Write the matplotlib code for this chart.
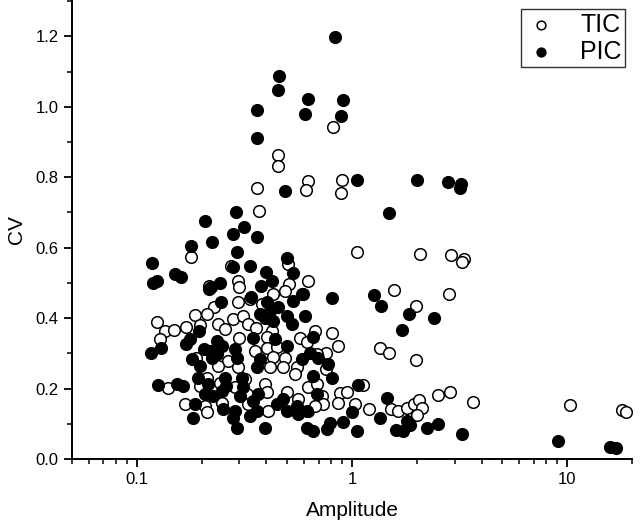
import matplotlib
matplotlib.use("Agg")
import matplotlib.pyplot as plt
from matplotlib.ticker import LogLocator, MultipleLocator, FuncFormatter

plt.rcParams['font.family'] = ['Liberation Sans', 'DejaVu Sans']

# TIC (open circles): amplitude, CV
tic_amp = [0.813, 0.90, 0.89, 0.451, 0.451, 0.363, 0.622, 0.609, 0.368,
           0.178, 1.06, 0.274, 0.505, 0.626, 0.296, 0.299, 0.511, 0.488, 0.431,
           0.594, 0.217, 0.296, 0.335, 0.380, 0.228, 0.212, 0.186, 0.281, 0.310,
           0.124, 0.135, 0.149, 0.169, 0.196, 0.239, 0.257, 0.330, 0.358, 0.423,
           0.128, 0.299, 0.401, 0.573, 0.616, 0.673, 0.804, 0.864, 0.404, 0.447,
           0.354, 0.266, 0.296, 0.239, 0.189, 0.431, 0.488, 0.416, 0.479, 0.553,
           0.543, 0.757, 0.685, 0.211, 0.196, 0.140, 0.243, 0.286, 0.318, 0.394,
           0.324, 0.401, 0.497, 0.563, 0.626, 0.685, 0.723, 0.735, 0.880, 0.944,
           0.864, 1.03, 0.167, 0.207, 0.211, 0.248, 0.330, 0.408, 0.626, 0.673,
           0.76, 1.35, 1.48, 1.98, 1.13, 1.20, 1.52, 1.63, 1.81, 1.94,
           2.04, 2.11, 2.0, 2.52, 2.86, 3.64, 2.06, 2.87, 3.31, 3.25,
           1.56, 1.98, 2.81, 10.3, 18.0, 18.8]
tic_cv = [0.942, 0.793, 0.754, 0.864, 0.832, 0.769, 0.790, 0.764, 0.703,
          0.572, 0.587, 0.549, 0.553, 0.506, 0.506, 0.487, 0.497, 0.476, 0.468,
          0.468, 0.492, 0.447, 0.454, 0.440, 0.432, 0.413, 0.409, 0.397, 0.407,
          0.390, 0.364, 0.366, 0.376, 0.380, 0.383, 0.369, 0.382, 0.373, 0.364,
          0.340, 0.343, 0.347, 0.343, 0.331, 0.362, 0.359, 0.321, 0.315, 0.317,
          0.307, 0.279, 0.260, 0.264, 0.288, 0.290, 0.288, 0.260, 0.260, 0.260,
          0.241, 0.300, 0.298, 0.231, 0.208, 0.201, 0.217, 0.203, 0.227, 0.214,
          0.184, 0.189, 0.189, 0.170, 0.203, 0.212, 0.179, 0.156, 0.188, 0.189,
          0.160, 0.156, 0.156, 0.151, 0.132, 0.160, 0.156, 0.137, 0.137, 0.151,
          0.256, 0.316, 0.300, 0.282, 0.210, 0.141, 0.141, 0.135, 0.146, 0.156,
          0.168, 0.144, 0.125, 0.182, 0.189, 0.163, 0.582, 0.579, 0.569, 0.559,
          0.480, 0.435, 0.468, 0.152, 0.138, 0.132]

# PIC (filled circles): amplitude, CV
pic_amp = [0.83, 0.905, 0.886, 1.05, 2.01, 2.80, 3.22, 3.18, 0.457, 0.453,
           0.626, 0.607, 0.363, 0.362, 0.488, 0.288, 0.315, 0.208, 1.49,
           1.26, 1.37, 1.85, 2.41, 1.71, 1.45, 1.35, 1.60, 1.73, 1.81,
           1.86, 2.22, 2.51, 3.24, 9.08, 15.8, 16.8,
           0.281, 0.363, 0.223, 0.178, 0.293, 0.118, 0.281, 0.335, 0.50, 0.398,
           0.423, 0.530, 0.124, 0.119, 0.150, 0.160, 0.221, 0.243, 0.217, 0.377,
           0.584, 0.533, 0.804, 0.246, 0.341, 0.401, 0.454, 0.416, 0.373, 0.394,
           0.431, 0.497, 0.524, 0.605, 0.194, 0.176, 0.169, 0.130, 0.117, 0.348,
           0.438, 0.497, 0.661, 0.205, 0.235, 0.219, 0.235, 0.248, 0.223, 0.286,
           0.291, 0.180, 0.196, 0.373, 0.360, 0.584, 0.638, 0.697, 0.776, 0.804,
           0.661, 0.193, 0.215, 0.257, 0.261, 0.307, 0.312, 0.126, 0.153, 0.164,
           0.207, 0.226, 0.248, 0.301, 0.367, 0.348, 0.479, 0.447, 0.553, 0.616,
           0.685, 0.186, 0.252, 0.286, 0.360, 0.335, 0.281, 0.183, 0.293, 0.394,
           0.50, 0.563, 0.616, 0.661, 0.763, 0.791, 0.911, 0.997, 1.05, 1.07]
pic_cv = [1.197, 1.020, 0.975, 0.792, 0.792, 0.786, 0.782, 0.769, 1.087, 1.047,
          1.021, 0.978, 0.992, 0.911, 0.760, 0.700, 0.658, 0.677, 0.697,
          0.466, 0.433, 0.413, 0.399, 0.366, 0.174, 0.116, 0.082, 0.080, 0.108,
          0.097, 0.089, 0.100, 0.072, 0.051, 0.035, 0.032,
          0.639, 0.631, 0.617, 0.604, 0.587, 0.555, 0.544, 0.547, 0.570, 0.530,
          0.506, 0.527, 0.506, 0.501, 0.525, 0.516, 0.489, 0.500, 0.483, 0.492,
          0.468, 0.449, 0.457, 0.447, 0.461, 0.447, 0.432, 0.421, 0.411, 0.400,
          0.392, 0.407, 0.383, 0.407, 0.364, 0.340, 0.326, 0.315, 0.302, 0.343,
          0.340, 0.321, 0.347, 0.312, 0.336, 0.307, 0.298, 0.321, 0.288, 0.312,
          0.288, 0.283, 0.264, 0.283, 0.260, 0.283, 0.302, 0.288, 0.269, 0.231,
          0.236, 0.231, 0.212, 0.231, 0.208, 0.231, 0.203, 0.210, 0.214, 0.208,
          0.184, 0.179, 0.193, 0.179, 0.184, 0.165, 0.170, 0.156, 0.151, 0.137,
          0.184, 0.156, 0.141, 0.137, 0.137, 0.122, 0.117, 0.116, 0.089, 0.089,
          0.137, 0.127, 0.089, 0.080, 0.084, 0.103, 0.106, 0.132, 0.080, 0.210]

fig = plt.figure(figsize=(6.4, 5.28), dpi=100)
ax = fig.add_axes([0.1125, 0.1307, 0.875, 0.8673])

ax.scatter(tic_amp, tic_cv, s=70, facecolors='white', edgecolors='black',
           linewidths=1.1, label='TIC', zorder=3)
ax.scatter(pic_amp, pic_cv, s=70, facecolors='black', edgecolors='black',
           linewidths=1.1, label='PIC', zorder=3)

ax.set_xscale('log')
ax.set_xlim(0.05, 20)
ax.set_ylim(0, 1.3)

ax.xaxis.set_major_locator(LogLocator(base=10))
ax.xaxis.set_minor_locator(LogLocator(base=10, subs=range(2, 10)))
ax.xaxis.set_major_formatter(FuncFormatter(lambda v, p: '{:g}'.format(v)))
ax.yaxis.set_major_locator(MultipleLocator(0.2))
ax.yaxis.set_minor_locator(MultipleLocator(0.1))
ax.yaxis.set_major_formatter(FuncFormatter(lambda v, p: '{:.1f}'.format(v)))

ax.spines['top'].set_visible(False)
ax.spines['right'].set_visible(False)
for s in ['left', 'bottom']:
    ax.spines[s].set_linewidth(1.4)

ax.tick_params(which='major', direction='out', length=6, width=1.3, labelsize=12)
ax.tick_params(which='minor', direction='out', length=3.5, width=1.1)

ax.set_xlabel('Amplitude', fontsize=15, labelpad=10)
ax.set_ylabel('CV', fontsize=15, labelpad=7)

leg = ax.legend(loc='upper right', fontsize=18, markerscale=0.75, frameon=True,
                fancybox=False, edgecolor='black', handletextpad=0.9,
                borderpad=0.15, labelspacing=0.1, handlelength=1.3,
                borderaxespad=0, bbox_to_anchor=(0.988, 0.982))
leg.get_frame().set_linewidth(1.0)

fig.savefig('out.png', dpi=100)
